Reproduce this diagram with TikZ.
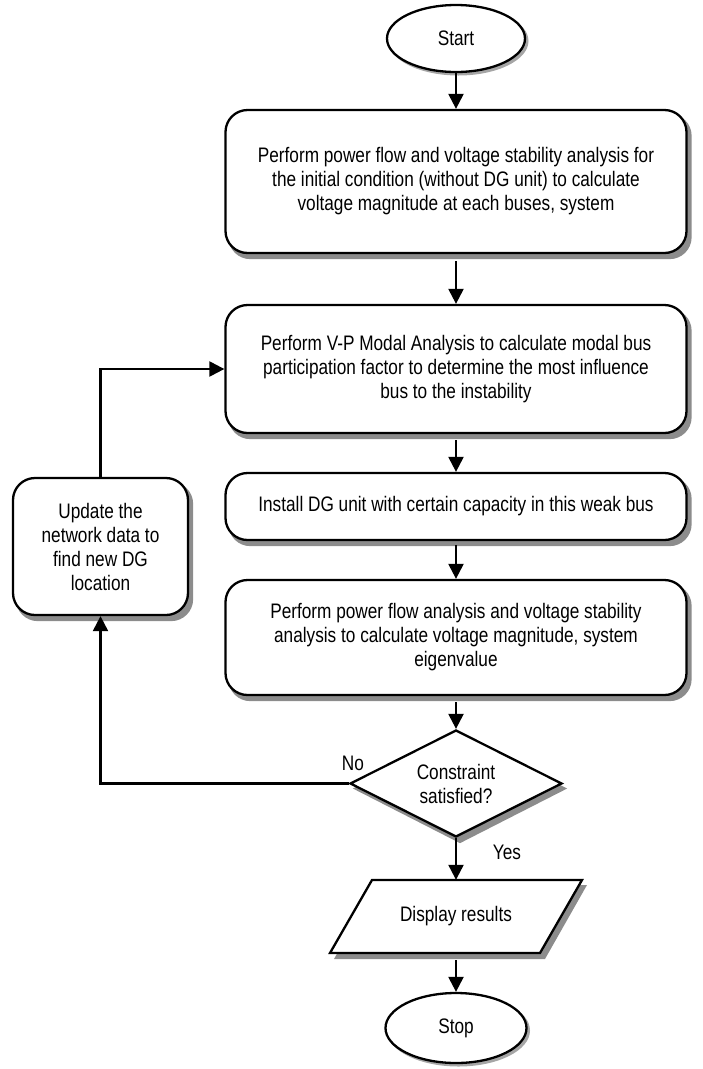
\documentclass[tikz,border=0pt]{standalone}
\usepackage{fontspec}
\setmainfont{Liberation Sans}[FakeStretch=0.82]
\usetikzlibrary{shapes.geometric,arrows.meta,calc,backgrounds}

\begin{document}
\begin{tikzpicture}[x=1pt,y=1pt,
  every node/.style={font=\fontsize{21pt}{24pt}\selectfont},
  arr/.style={line width=2.3pt,-{Triangle[length=15pt,width=15pt]}},
  shadowfill/.style={fill=black!45},
  procbox/.style={draw,line width=2.3pt,rounded corners=22pt,fill=white,align=center,inner sep=0pt,minimum width=461pt},
  term/.style={draw,ellipse,line width=2.3pt,fill=white,inner sep=0pt},
  decision/.style={draw,diamond,aspect=2,line width=2.3pt,fill=white,align=center,inner sep=0pt},
  lbl/.style={inner sep=0pt}
]
\useasboundingbox (0,0) rectangle (702,-1069);

\node[term,minimum width=138pt,minimum height=67pt] (start) at (456,-38.5) {Start};

\node[procbox,minimum height=143pt] (b1) at (456,-181.5)
  {Perform power flow and voltage stability analysis for\\the initial condition (without DG unit) to calculate\\voltage magnitude at each buses, system};

\node[procbox,minimum height=128pt] (b2) at (456,-369)
  {Perform V-P Modal Analysis to calculate modal bus\\participation factor to determine the most influence\\bus to the instability};

\node[procbox,minimum height=67pt] (b3) at (456,-506.5)
  {Install DG unit with certain capacity in this weak bus};

\node[procbox,minimum height=115pt] (b4) at (456,-637.5)
  {Perform power flow analysis and voltage stability\\analysis to calculate voltage magnitude, system\\eigenvalue};

\node[procbox,minimum width=175pt,minimum height=137pt] (upd) at (100.5,-546.5)
  {Update the\\network data to\\find new DG\\location};

\node[decision,minimum width=212pt,minimum height=107pt] (dec) at (456,-783.5)
  {Constraint\\satisfied?};

\coordinate (dc) at (456,-916.5);
\draw[line width=2.3pt,fill=white]
  ([shift={(-84,36.5)}]dc) -- ([shift={(126,36.5)}]dc) --
  ([shift={(84,-36.5)}]dc) -- ([shift={(-126,-36.5)}]dc) -- cycle;
\node[inner sep=0pt,minimum height=73pt] (disp) at (dc) {Display results};

\node[term,minimum width=141pt,minimum height=70pt] (stop) at (456,-1028) {Stop};

\node[lbl] (no) at (353,-763) {No};
\node[lbl] (yes) at (507,-852) {Yes};

\begin{scope}[on background layer]
  \foreach \n in {b1,b2,b3,b4,upd}{
    \fill[shadowfill,rounded corners=22pt]
      ([shift={(4,-5)}]\n.south west) rectangle ([shift={(4,-5)}]\n.north east);
  }
  \fill[shadowfill] ([shift={(4,-5)}]dec.north) -- ([shift={(4,-5)}]dec.east) --
    ([shift={(4,-5)}]dec.south) -- ([shift={(4,-5)}]dec.west) -- cycle;
  \fill[shadowfill]
    ([shift={(-80,31.5)}]dc) -- ([shift={(131,31.5)}]dc) --
    ([shift={(89,-42.5)}]dc) -- ([shift={(-122,-42.5)}]dc) -- cycle;
  \fill[black!35] ([shift={(2.5,-2.5)}]start.center) ellipse [x radius=70, y radius=34.5];
  \fill[black!35] ([shift={(2.5,-2.5)}]stop.center) ellipse [x radius=71.5, y radius=36];
\end{scope}

\draw[arr] (start.south) -- (b1.north);
\draw[arr,shorten <=7pt] (b1.south) -- (b2.north);
\draw[arr,shorten <=6pt] (b2.south) -- (b3.north);
\draw[arr,shorten <=4pt] (b3.south) -- (b4.north);
\draw[arr,shorten <=6pt] (b4.south) -- (dec.north);
\draw[arr] (dec.south) -- (disp.north);
\draw[arr,shorten <=7pt] (disp.south) -- (stop.north);
\draw[arr] (dec.west) -| (upd.south);
\draw[arr] (upd.north) |- (b2.west);
\end{tikzpicture}
\end{document}
